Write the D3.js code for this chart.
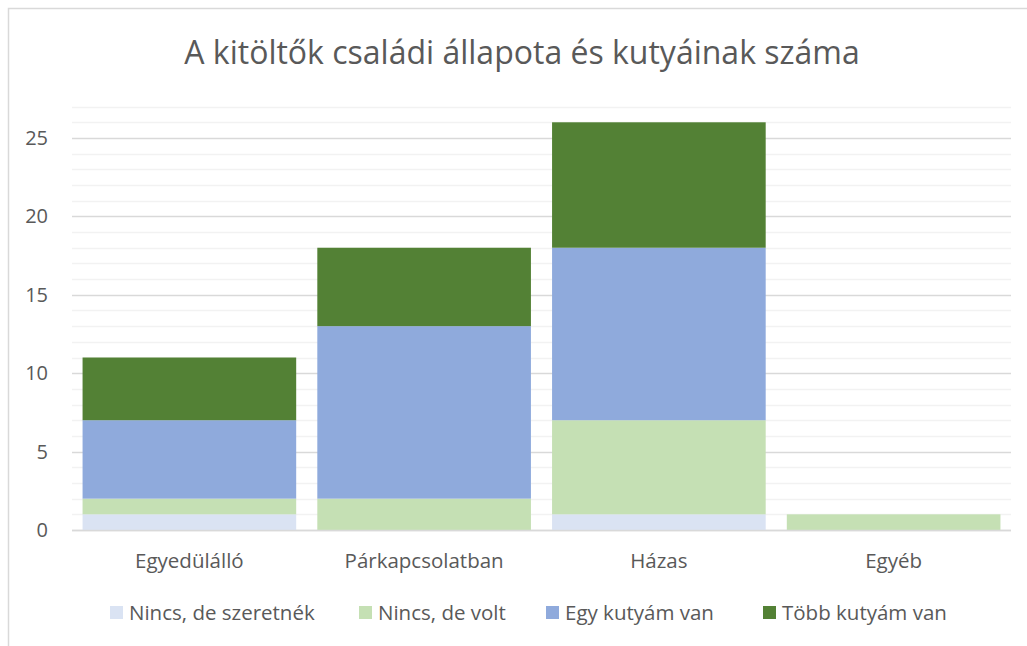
<!DOCTYPE html>
<html>
<head>
<meta charset="utf-8">
<script src="https://cdn.jsdelivr.net/npm/d3@7"></script>
<style>
  body { margin: 0; background: #fff; }
  text { font-family: "Open Sans", "Noto Sans", sans-serif; fill: #595959; }
</style>
</head>
<body>
<div id="chart"></div>
<script>
// chart data
var categories = ["Egyedülálló", "Párkapcsolatban", "Házas", "Egyéb"];
var seriesNames = ["Nincs, de szeretnék", "Nincs, de volt", "Egy kutyám van", "Több kutyám van"];
var seriesColors = ["#dae3f3", "#c5e0b4", "#8faadc", "#538135"];
var nincsSzeretnek = [1, 0, 1, 0];
var nincsVolt = [1, 2, 6, 1];
var egyKutya = [5, 11, 11, 0];
var tobbKutya = [4, 5, 8, 0];
var yTicks = [0, 5, 10, 15, 20, 25];

var W = 1027, H = 646;
var svg = d3.select("#chart").append("svg")
  .attr("width", W).attr("height", H);

// chart area border
svg.append("rect")
  .attr("x", 8.5).attr("y", 8.5)
  .attr("width", W + 20).attr("height", H + 20)
  .attr("fill", "none").attr("stroke", "#d9d9d9").attr("stroke-width", 1.5);

svg.append("text")
  .attr("x", 522).attr("y", 64)
  .attr("text-anchor", "middle")
  .style("font-size", "32px")
  .text("A kitöltők családi állapota és kutyáinak száma");

var plotLeft = 72, plotRight = 1011, plotTop = 106.6, plotBottom = 530;

var x = d3.scaleBand().domain(categories).range([plotLeft, plotRight]).paddingInner(0.09).paddingOuter(0.045);
var y = d3.scaleLinear().domain([0, 27]).range([plotBottom, plotTop]);

// minor gridlines
svg.append("g").selectAll("line")
  .data(d3.range(1, 28).filter(function(v) { return v % 5 !== 0; }))
  .enter().append("line")
  .attr("x1", plotLeft).attr("x2", plotRight)
  .attr("y1", function(d) { return Math.round(y(d)) + 0.5; })
  .attr("y2", function(d) { return Math.round(y(d)) + 0.5; })
  .attr("stroke", "#f2f2f2").attr("stroke-width", 1.5);

// major gridlines
svg.append("g").selectAll("line")
  .data(yTicks)
  .enter().append("line")
  .attr("x1", plotLeft).attr("x2", plotRight)
  .attr("y1", function(d) { return Math.round(y(d)) + 0.5; })
  .attr("y2", function(d) { return Math.round(y(d)) + 0.5; })
  .attr("stroke", "#d9d9d9").attr("stroke-width", 1.5);

// y labels
svg.append("g").selectAll("text")
  .data(yTicks)
  .enter().append("text")
  .attr("x", 48).attr("y", function(d) { return y(d) + 7; })
  .attr("text-anchor", "end")
  .style("font-size", "20px")
  .text(function(d) { return d; });

var table = categories.map(function(c, i) {
  return { cat: c, s0: nincsSzeretnek[i], s1: nincsVolt[i], s2: egyKutya[i], s3: tobbKutya[i] };
});
var stack = d3.stack().keys(["s0", "s1", "s2", "s3"])(table);

svg.append("g").selectAll("g")
  .data(stack)
  .enter().append("g")
  .attr("fill", function(d, i) { return seriesColors[i]; })
  .selectAll("rect")
  .data(function(d) { return d; })
  .enter().append("rect")
  .attr("x", function(d) { return x(d.data.cat); })
  .attr("width", x.bandwidth())
  .attr("y", function(d) { return y(d[1]); })
  .attr("height", function(d) { return y(d[0]) - y(d[1]); });

// baseline on top
svg.append("line")
  .attr("x1", plotLeft).attr("x2", plotRight)
  .attr("y1", Math.round(y(0)) + 0.5).attr("y2", Math.round(y(0)) + 0.5)
  .attr("stroke", "#d9d9d9").attr("stroke-width", 1.5);

// x labels
svg.append("g").selectAll("text")
  .data(categories)
  .enter().append("text")
  .attr("x", function(d) { return x(d) + x.bandwidth() / 2; })
  .attr("y", 568)
  .attr("text-anchor", "middle")
  .style("font-size", "20.5px")
  .text(function(d) { return d; });

// legend
var legendX = [110, 359, 546, 763];
var leg = svg.append("g").selectAll("g")
  .data(seriesNames)
  .enter().append("g")
  .attr("transform", function(d, i) { return "translate(" + legendX[i] + ",606)"; });
leg.append("rect")
  .attr("width", 13).attr("height", 13)
  .attr("fill", function(d, i) { return seriesColors[i]; });
leg.append("text")
  .attr("x", 19).attr("y", 14)
  .style("font-size", "20.5px")
  .text(function(d) { return d; });
</script>
</body>
</html>
